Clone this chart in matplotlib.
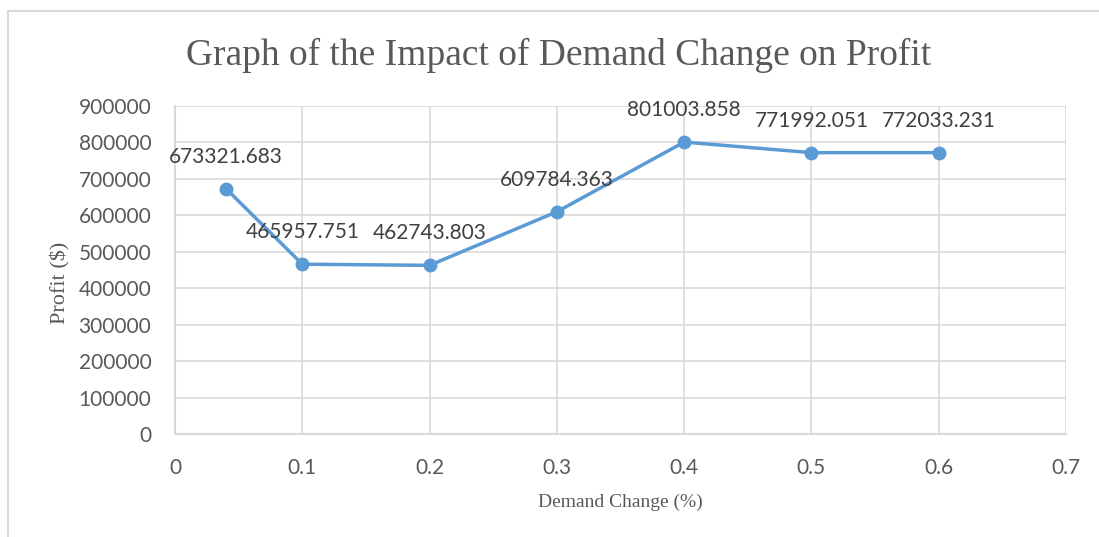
import matplotlib.pyplot as plt
from matplotlib.lines import Line2D

# Demand change vs profit
demand_change = [0.04, 0.1, 0.2, 0.3, 0.4, 0.5, 0.6]
profit = [673321.683, 465957.751, 462743.803, 609784.363, 801003.858, 771992.051, 772033.231]
x_ticks = [0, 0.1, 0.2, 0.3, 0.4, 0.5, 0.6, 0.7]
y_ticks = [0, 100000, 200000, 300000, 400000, 500000, 600000, 700000, 800000, 900000]

text_color = "#595959"
grid_color = "#D9D9D9"
line_color = "#5B9BD5"

fig = plt.figure(figsize=(10.99, 5.37), dpi=100)
ax = fig.add_axes([175 / 1099, 1 - 434 / 537, 891 / 1099, 328 / 537])

ax.plot(demand_change, profit, color=line_color, linewidth=2.5,
        marker="o", markersize=9, zorder=3)

# Data labels above each point
for x, y in zip(demand_change, profit):
    ax.annotate(f"{y:.3f}", (x, y), xytext=(0, 23), textcoords="offset points",
                ha="center", va="center", fontsize=15, family="Lato",
                color="#404040", zorder=4)

ax.set_xlim(0, 0.7)
ax.set_ylim(0, 900000)
ax.set_xticks(x_ticks)
ax.set_yticks(y_ticks)
ax.set_xticklabels([f"{t:g}" for t in x_ticks])
ax.set_yticklabels([str(t) for t in y_ticks])
ax.grid(True, color=grid_color, linewidth=1.2, zorder=0)
ax.set_axisbelow(True)
for side in ["top", "right"]:
    ax.spines[side].set_visible(False)
for side in ["left", "bottom"]:
    ax.spines[side].set_color(grid_color)
    ax.spines[side].set_linewidth(1.5)
ax.tick_params(length=0, labelsize=15, labelcolor=text_color)
ax.tick_params(axis="y", pad=17)
ax.tick_params(axis="x", pad=17)
for lbl in ax.get_xticklabels() + ax.get_yticklabels():
    lbl.set_family("Lato")

ax.set_xlabel("Demand Change (%)", family="Liberation Serif", fontsize=14,
              color=text_color)
ax.xaxis.set_label_coords(0.5, -0.183)
ax.set_ylabel("Profit ($)", family="Liberation Serif", fontsize=16,
              color=text_color)
ax.yaxis.set_label_coords(-0.117, 0.46)

fig.text(559 / 1099, 1 - 55 / 537, "Graph of the Impact of Demand Change on Profit",
         ha="center", va="center", family="Liberation Serif", fontsize=27,
         color=text_color)

# Chart area border (top and left edges visible)
fig.add_artist(Line2D([8 / 1099, 8 / 1099], [0, 1 - 11 / 537],
                      transform=fig.transFigure, color=grid_color, linewidth=1.5))
fig.add_artist(Line2D([8 / 1099, 1], [1 - 11 / 537, 1 - 11 / 537],
                      transform=fig.transFigure, color=grid_color, linewidth=1.5))

fig.savefig("out.png", dpi=100)
